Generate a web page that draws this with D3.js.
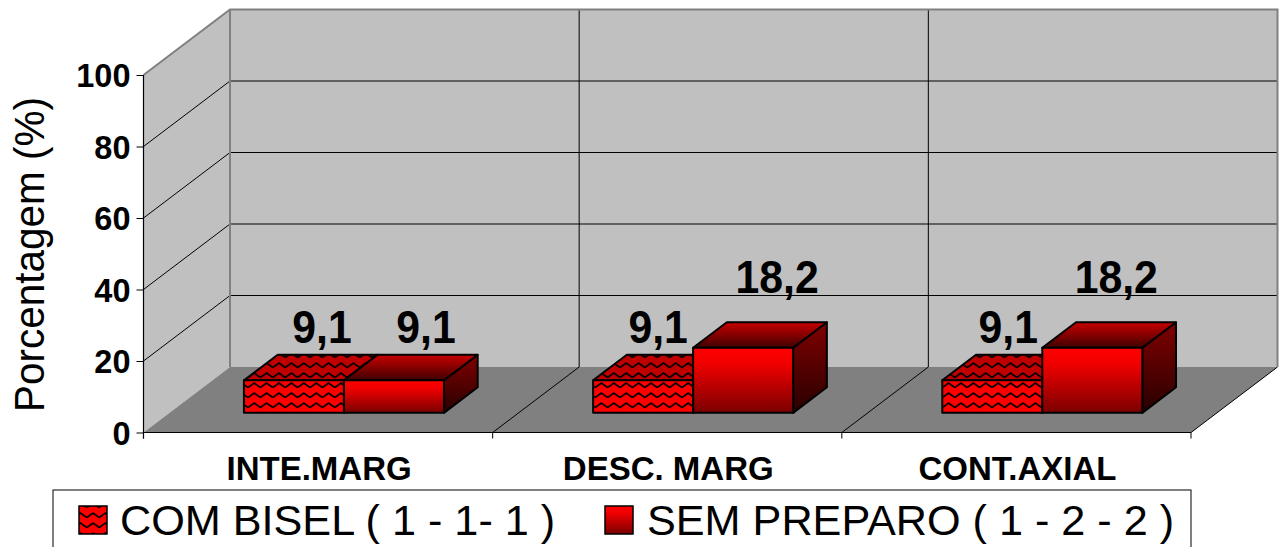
<!DOCTYPE html>
<html>
<head>
<meta charset="utf-8">
<script src="https://cdn.jsdelivr.net/npm/d3@7/dist/d3.min.js"></script>
<style>
html,body{margin:0;padding:0;background:#fff;overflow:hidden}
svg{display:block}
text{font-family:"Liberation Sans",Arial,sans-serif;fill:#000}
</style>
</head>
<body>
<svg id="chart" width="1282" height="547"></svg>
<script>
const categories = ["INTE.MARG", "DESC. MARG", "CONT.AXIAL"];
const seriesNames = ["COM BISEL ( 1 - 1- 1 )", "SEM PREPARO ( 1 - 2 - 2 )"];
const comBisel = [9.1, 9.1, 9.1];
const semPreparo = [9.1, 18.2, 18.2];
const yTicks = [0, 20, 40, 60, 80, 100];
const axisTitle = "Porcentagem (%)";

const svg = d3.select("#chart");
const defs = svg.append("defs");

// Oblique projection: v on the value axis, z running front (0) to back (1)
const depth = {dx: 86.5, dy: -65.5};
const x = d3.scaleBand().domain(categories).range([143.5, 1191]);
const y = d3.scaleLinear().domain([0, 100]).range([432.5, 75]);
const inner = d3.scaleBand().domain([0, 1]).range([74.5, 274.5]);
const zFront = 0.3, zBack = 0.69;
const px = (xv, z) => xv + z * depth.dx;
const py = (v, z) => y(v) + z * depth.dy;
const pts = a => a.map(p => p.join(",")).join(" ");

function gradient(id, stops) {
  const g = defs.append("linearGradient").attr("id", id)
    .attr("x1", 0).attr("y1", 0).attr("x2", 0).attr("y2", 1);
  stops.forEach(([o, c]) => g.append("stop").attr("offset", o).attr("stop-color", c));
}
gradient("gFront", [[0, "#ff0000"], [0.25, "#f00000"], [1, "#7a0000"]]);
gradient("gTop", [[0, "#c80000"], [1, "#400000"]]);
gradient("gSide", [[0, "#800000"], [1, "#280000"]]);

// One wave per tile, repeated across the hatched faces
function wavePattern(id, bg) {
  const w = 12.4, h = 10;
  const p = defs.append("pattern").attr("id", id).attr("patternUnits", "userSpaceOnUse")
    .attr("width", w).attr("height", h);
  p.append("rect").attr("width", w).attr("height", h).attr("fill", bg);
  p.append("path").attr("d", `M0,7.5 L${w / 2},3 L${w},7.5`).attr("fill", "none")
    .attr("stroke", "#000").attr("stroke-width", 1.6);
}
wavePattern("waveFront", "#ff0000");
wavePattern("waveTop", "#c00000");

// Walls and floor
const xL = 143.5, xR = 1191;
const plot = svg.append("g");
plot.append("polygon").attr("points", pts([[xL, y(100)], [px(xL, 1), py(100, 1)], [px(xL, 1), py(0, 1)], [xL, y(0)]]))
  .attr("fill", "#c0c0c0");
plot.append("polygon").attr("points", pts([[px(xL, 1), py(100, 1)], [px(xR, 1), py(100, 1)], [px(xR, 1), py(0, 1)], [px(xL, 1), py(0, 1)]]))
  .attr("fill", "#c0c0c0");
plot.append("polygon").attr("points", pts([[xL, y(0)], [xR, y(0)], [px(xR, 1), py(0, 1)], [px(xL, 1), py(0, 1)]]))
  .attr("fill", "#808080");

// Gridlines across the side and back walls
yTicks.filter(t => t > 0 && t < 100).forEach(t => {
  plot.append("polyline").attr("fill", "none").attr("stroke", "#000").attr("stroke-width", 1)
    .attr("points", pts([[xL, y(t)], [px(xL, 1), py(t, 1)], [px(xR, 1), py(t, 1)]]));
});

// Category separators on the back wall and floor
const bounds = categories.map(c => x(c)).concat([xR]);
bounds.slice(1).forEach((b, i) => {
  const line = [[b, y(0)], [px(b, 1), py(0, 1)]];
  if (i < 2) line.push([px(b, 1), py(100, 1)]);
  plot.append("polyline").attr("fill", "none").attr("stroke", "#000").attr("stroke-width", 1)
    .attr("points", pts(line));
});

// Grey wall outline
plot.append("polyline").attr("fill", "none").attr("stroke", "#808080").attr("stroke-width", 2)
  .attr("points", pts([[xL, y(100)], [px(xL, 1), py(100, 1)], [px(xR, 1), py(100, 1)], [px(xR, 1), py(0, 1)]]));
plot.append("line").attr("stroke", "#808080").attr("stroke-width", 2)
  .attr("x1", px(xL, 1)).attr("x2", px(xL, 1)).attr("y1", py(100, 1)).attr("y2", py(0, 1));

// Bars: each is a front, top and side face
function bar(parent, x0, x1, v, fills) {
  const g = parent.append("g").attr("stroke", "#000").attr("stroke-width", 2).attr("stroke-linejoin", "round");
  g.append("polygon").attr("fill", fills.side)
    .attr("points", pts([[px(x1, zFront), py(v, zFront)], [px(x1, zBack), py(v, zBack)], [px(x1, zBack), py(0, zBack)], [px(x1, zFront), py(0, zFront)]]));
  g.append("polygon").attr("fill", fills.top)
    .attr("points", pts([[px(x0, zFront), py(v, zFront)], [px(x1, zFront), py(v, zFront)], [px(x1, zBack), py(v, zBack)], [px(x0, zBack), py(v, zBack)]]));
  g.append("polygon").attr("fill", fills.front)
    .attr("points", pts([[px(x0, zFront), py(v, zFront)], [px(x1, zFront), py(v, zFront)], [px(x1, zFront), py(0, zFront)], [px(x0, zFront), py(0, zFront)]]));
}
const seriesFills = [
  {front: "url(#waveFront)", top: "url(#waveTop)", side: "#800000"},
  {front: "url(#gFront)", top: "url(#gTop)", side: "url(#gSide)"}
];
const seriesValues = [comBisel, semPreparo];
const bars = svg.append("g");
categories.forEach((c, i) => {
  seriesValues.forEach((vals, s) => {
    const x0 = x(c) + inner(s);
    bar(bars, x0, x0 + inner.bandwidth(), vals[i], seriesFills[s]);
  });
});

// Value labels, placed by hand clear of the bars
const labelShift = [[28, 32], [15, 34], [16, 24]];
const labelLift = [[12, 12], [12, 29], [12, 29]];
categories.forEach((c, i) => {
  seriesValues.forEach((vals, s) => {
    const cx = px(x(c) + inner(s) + inner.bandwidth() / 2, zFront) + labelShift[i][s];
    const cy = py(vals[i], zBack) - labelLift[i][s];
    svg.append("text").attr("transform", `translate(${cx},${cy}) scale(0.93,1)`)
      .attr("text-anchor", "middle").attr("font-weight", "bold").attr("font-size", 46)
      .text(String(vals[i]).replace(".", ","));
  });
});

// Axes
const yAxis = d3.axisLeft(y).tickValues(yTicks).tickSize(7).tickPadding(6);
const yG = svg.append("g").attr("transform", `translate(${xL},0)`).call(yAxis);
yG.select(".domain").attr("stroke", "#000").attr("stroke-width", 1.2).attr("d", `M0,${y(100)}V${y(0) + 6}`);
yG.selectAll("line").attr("stroke", "#000");
yG.selectAll("text").attr("font-size", 32.5).attr("font-weight", "bold").attr("font-family", "Liberation Sans")
  .attr("dy", "0.36em");

const xAxis = d3.axisBottom(x).tickSize(0).tickPadding(24);
const xG = svg.append("g").attr("transform", `translate(0,${y(0)})`).call(xAxis);
xG.select(".domain").attr("stroke", "#000").attr("stroke-width", 1.2).attr("d", `M${xL},0H${xR}`);
xG.selectAll("text").attr("font-size", 33).attr("font-weight", "bold").attr("font-family", "Liberation Sans")
  .attr("dx", 1);
bounds.forEach(b => {
  xG.append("line").attr("x1", b).attr("x2", b).attr("y1", 0).attr("y2", 6).attr("stroke", "#000");
});

svg.append("text").attr("transform", "translate(44,412) rotate(-90)")
  .attr("font-size", 43)
  .attr("textLength", 315).attr("lengthAdjust", "spacingAndGlyphs").text(axisTitle);

// Legend
const legend = svg.append("g");
legend.append("rect").attr("x", 53).attr("y", 490).attr("width", 1138).attr("height", 70)
  .attr("fill", "#fff").attr("stroke", "#000").attr("stroke-width", 1);
const legendX = [[79, 120], [605, 647]];
const legendFill = ["url(#waveFront)", "url(#gFront)"];
seriesNames.forEach((n, i) => {
  legend.append("rect").attr("x", legendX[i][0]).attr("y", 506).attr("width", 28).attr("height", 28)
    .attr("fill", legendFill[i]).attr("stroke", "#000").attr("stroke-width", 1.5);
  legend.append("text").attr("x", legendX[i][1]).attr("y", 535).attr("font-size", 43.2).text(n);
});
</script>
</body>
</html>
